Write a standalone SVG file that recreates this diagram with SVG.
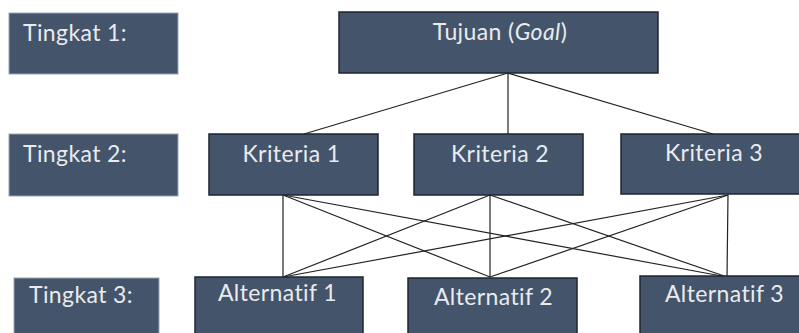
<svg xmlns="http://www.w3.org/2000/svg" width="799" height="333" viewBox="0 0 799 333">
<style>
.lvl{fill:#44546a;stroke:#9aa5b4;stroke-width:1}
.node{fill:#44546a;stroke:#1e2530;stroke-width:1.5}
.t{font-family:Lato,"Open Sans","Liberation Sans",sans-serif;font-size:23px;letter-spacing:0.4px;fill:#e9ebee}
.c{text-anchor:middle}
.con line{stroke:#222;stroke-width:1.2}
</style>
<rect width="799" height="333" fill="#ffffff"/>
<g id="tingkat1"><rect class="lvl" x="9" y="13" width="169" height="61"/><text class="t" x="23" y="41">Tingkat 1:</text></g>
<g id="tingkat2"><rect class="lvl" x="9" y="134" width="169" height="62"/><text class="t" x="23" y="162">Tingkat 2:</text></g>
<g id="tingkat3"><rect class="lvl" x="14" y="278" width="145" height="60"/><text class="t" x="29" y="303">Tingkat 3:</text></g>
<g class="con" id="connectors">
<line x1="508" y1="73" x2="304" y2="134"/>
<line x1="508" y1="73" x2="508" y2="134"/>
<line x1="508" y1="73" x2="713" y2="134"/>
<line x1="283" y1="195" x2="283" y2="277"/>
<line x1="283" y1="195" x2="490" y2="277"/>
<line x1="283" y1="195" x2="727" y2="277"/>
<line x1="490" y1="195" x2="283" y2="277"/>
<line x1="490" y1="195" x2="490" y2="277"/>
<line x1="490" y1="195" x2="727" y2="277"/>
<line x1="728" y1="195" x2="283" y2="277"/>
<line x1="728" y1="195" x2="490" y2="277"/>
<line x1="728" y1="195" x2="727" y2="277"/>
</g>
<g id="goal"><rect class="node" x="339" y="12" width="319" height="61"/><text class="t c" x="500" y="40">Tujuan (<tspan font-style="italic">Goal</tspan>)</text></g>
<g id="kriteria1"><rect class="node" x="209" y="134" width="169" height="61"/><text class="t c" x="291.5" y="162">Kriteria 1</text></g>
<g id="kriteria2"><rect class="node" x="414" y="134" width="169" height="61"/><text class="t c" x="500" y="162">Kriteria 2</text></g>
<g id="kriteria3"><rect class="node" x="621" y="134" width="190" height="60"/><text class="t c" x="714" y="161">Kriteria 3</text></g>
<g id="alternatif1"><rect class="node" x="195" y="277" width="168" height="70"/><text class="t c" x="277.5" y="301">Alternatif 1</text></g>
<g id="alternatif2"><rect class="node" x="408" y="278" width="169" height="70"/><text class="t c" x="493.5" y="305">Alternatif 2</text></g>
<g id="alternatif3"><rect class="node" x="640" y="276" width="170" height="70"/><text class="t c" x="724.5" y="302">Alternatif 3</text></g>
</svg>
